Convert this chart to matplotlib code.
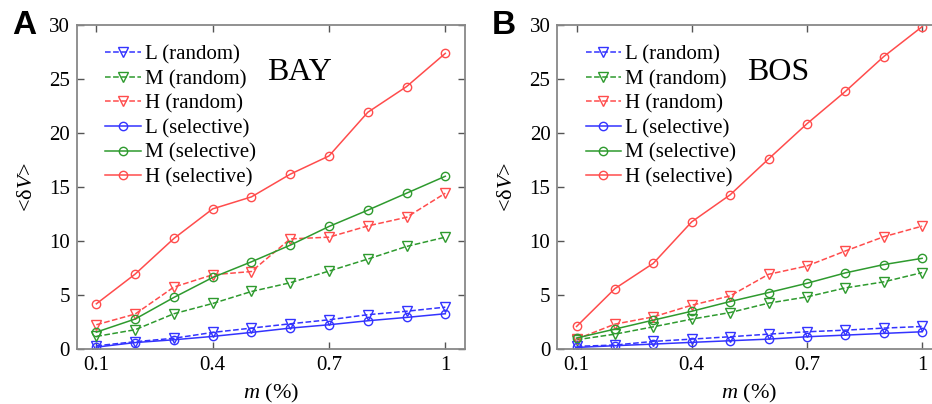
import matplotlib
matplotlib.use("Agg")
import matplotlib.pyplot as plt
import numpy as np

m_vals = [0.1, 0.2, 0.3, 0.4, 0.5, 0.6, 0.7, 0.8, 0.9, 1.0]

# panel A: BAY
bay_L_random = [0.30, 0.68, 1.00, 1.54, 1.94, 2.34, 2.71, 3.18, 3.50, 3.88]
bay_M_random = [1.17, 1.79, 3.27, 4.22, 5.33, 6.14, 7.22, 8.33, 9.50, 10.36]
bay_H_random = [2.25, 3.24, 5.74, 6.88, 7.18, 10.20, 10.36, 11.40, 12.20, 14.43]
bay_L_selective = [0.18, 0.60, 0.86, 1.17, 1.54, 1.94, 2.25, 2.62, 2.93, 3.27]
bay_M_selective = [1.57, 2.78, 4.78, 6.63, 8.08, 9.62, 11.35, 12.86, 14.43, 16.00]
bay_H_selective = [4.19, 6.94, 10.24, 12.98, 14.09, 16.19, 17.88, 21.92, 24.30, 27.38]

# panel B: BOS
bos_L_random = [0.25, 0.37, 0.71, 0.92, 1.14, 1.38, 1.60, 1.75, 1.94, 2.09]
bos_M_random = [0.86, 1.38, 2.06, 2.77, 3.38, 4.25, 4.83, 5.66, 6.22, 7.08]
bos_H_random = [0.92, 2.31, 2.98, 4.06, 4.92, 6.92, 7.69, 9.08, 10.40, 11.38]
bos_L_selective = [0.15, 0.31, 0.46, 0.62, 0.77, 0.92, 1.14, 1.29, 1.45, 1.60]
bos_M_selective = [1.02, 1.85, 2.68, 3.50, 4.40, 5.23, 6.09, 7.05, 7.82, 8.40]
bos_H_selective = [2.09, 5.60, 7.94, 11.78, 14.28, 17.60, 20.86, 23.85, 27.08, 29.85]

BLUE = "#3333ff"
GREEN = "#2e9a2e"
RED = "#ff4c4c"

plt.rcParams.update(
    {
        "font.family": "serif",
        "font.serif": ["Liberation Serif", "DejaVu Serif"],
        "mathtext.fontset": "custom",
        "mathtext.rm": "Liberation Serif",
        "mathtext.it": "Liberation Serif:italic",
        "xtick.direction": "in",
        "ytick.direction": "in",
        "xtick.top": True,
        "ytick.right": True,
    }
)

fig = plt.figure(figsize=(9.32, 4.04), dpi=100)
ax_a = fig.add_axes([0.0826, 0.136, 0.416, 0.802])
ax_b = fig.add_axes([0.598, 0.136, 0.412, 0.802])


def draw_panel(ax, series, city):
    labels = ["L (random)", "M (random)", "H (random)",
              "L (selective)", "M (selective)", "H (selective)"]
    colors = [BLUE, GREEN, RED, BLUE, GREEN, RED]
    for i, (vals, lab, col) in enumerate(zip(series, labels, colors)):
        random = i < 3
        ax.plot(m_vals, vals, color=col, linestyle="--" if random else "-",
                marker="v" if random else "o", markersize=6.5 if random else 6,
                markerfacecolor="none", markeredgecolor=col,
                markeredgewidth=1.0, linewidth=1.1, label=lab)
    ax.set_xlim(0.05, 1.05)
    ax.set_ylim(0, 30)
    ax.set_xticks([0.1, 0.4, 0.7, 1.0])
    ax.set_xticklabels(["0.1", "0.4", "0.7", "1"])
    ax.set_yticks([0, 5, 10, 15, 20, 25, 30])
    ax.tick_params(labelsize=15, length=5, width=1, color="#555555", pad=5)
    for sp in ax.spines.values():
        sp.set_color("#888888")
        sp.set_linewidth(1.3)
    ax.set_xlabel(r"$m$ (%)", fontsize=16, labelpad=5)
    ax.set_ylabel(r"<δ$V$>", fontsize=16, labelpad=9)
    ax.legend(loc="upper left", frameon=False, fontsize=15, handlelength=1.7,
              handletextpad=0.2, labelspacing=0.24, borderaxespad=0.4,
              bbox_to_anchor=(0.03, 0.99))
    ax.text(0.625, 25.6, city, fontsize=23, ha="center", va="center")


draw_panel(ax_a, [bay_L_random, bay_M_random, bay_H_random,
                  bay_L_selective, bay_M_selective, bay_H_selective], "BAY")
draw_panel(ax_b, [bos_L_random, bos_M_random, bos_H_random,
                  bos_L_selective, bos_M_selective, bos_H_selective], "BOS")

fig.text(24 / 932, 1 - 25 / 404, "A", fontsize=24, fontweight="bold",
         family="Liberation Sans", ha="center", va="center")
fig.text(504 / 932, 1 - 25 / 404, "B", fontsize=24, fontweight="bold",
         family="Liberation Sans", ha="center", va="center")

fig.savefig("out.png", dpi=100)
plt.close(fig)
